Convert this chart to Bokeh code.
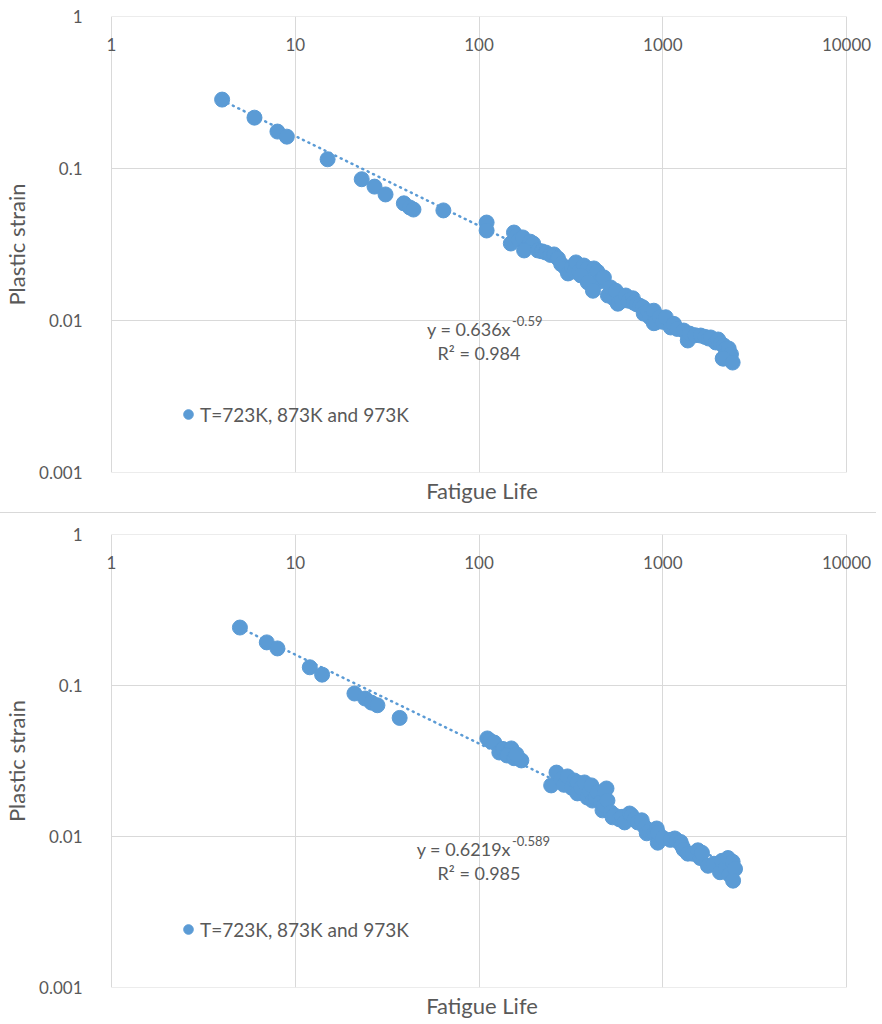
from bokeh.plotting import figure
from bokeh.models import (Range1d, FixedTicker, ColumnDataSource, LabelSet, Label,
                          Legend, LegendItem, Div, Title, CustomJSTickFormatter)
from bokeh.core.properties import value
from bokeh.layouts import column
from bokeh.embed import file_html
from bokeh.resources import INLINE

# data
life_top = [4, 6, 8, 9, 15, 23, 27, 31, 39, 42, 44, 64, 110, 110,
            155, 149, 160, 165, 173, 185, 190, 197, 176, 209, 220, 231, 245, 256, 269, 280,
            297, 305, 320, 330, 337, 350, 372, 390, 422, 440, 450, 472, 358, 391, 417,
            478, 503, 520, 540, 555, 569, 577, 600, 629, 650, 687, 695, 720, 750, 779, 788,
            830, 850, 894, 894, 916, 960, 1000, 1038, 1105, 1150, 1200, 1300, 1368, 1400,
            1500, 1609, 1700, 1778, 1824, 1941, 2000, 2066, 2146, 2200, 2256, 2284, 2350,
            2119, 2146, 2400]
strain_top = [0.284, 0.216, 0.175, 0.162, 0.115, 0.085, 0.076, 0.0675, 0.059, 0.0554, 0.0537, 0.053, 0.0441, 0.0391,
              0.0379, 0.0321, 0.036, 0.034, 0.0352, 0.031, 0.033, 0.0321, 0.0289, 0.0289, 0.0285, 0.0280, 0.027, 0.0272, 0.0256, 0.0235,
              0.0220, 0.0204, 0.0225, 0.021, 0.0241, 0.021, 0.0230, 0.022, 0.0220, 0.021, 0.018, 0.0192, 0.0198, 0.0178, 0.0157,
              0.0192, 0.0146, 0.0165, 0.014, 0.0157, 0.0129, 0.0131, 0.0135, 0.0146, 0.0135, 0.0140, 0.0131, 0.0128, 0.0125, 0.0122, 0.0111,
              0.0115, 0.0105, 0.0116, 0.0096, 0.0097, 0.0105, 0.0098, 0.0105, 0.0090, 0.0095, 0.0088, 0.00859, 0.00739, 0.0082,
              0.0080, 0.00796, 0.0078, 0.00761, 0.00773, 0.00717, 0.0075, 0.00706, 0.00685, 0.0065, 0.00616, 0.00654, 0.0060,
              0.00562, 0.00562, 0.00529]

life_bottom = [5, 7, 8, 12, 14, 21, 24, 26, 28, 37,
               111, 115, 121, 129, 135, 150, 142, 155, 170, 160,
               264, 247, 280, 290, 303, 320, 330, 343, 343, 360, 375, 389, 400, 409, 414, 430, 441,
               460, 494, 482, 470, 480, 500, 520, 533, 547, 580, 600, 620, 660, 677, 700, 730, 768,
               800, 818, 850, 900, 927, 939, 939, 1000, 1100, 1163, 1193, 1250, 1270, 1300, 1369,
               1450, 1553, 1600, 1634, 1762, 1900, 2048, 2100, 2200, 2265, 2300, 2400, 2473, 2413]
strain_bottom = [0.242, 0.193, 0.176, 0.132, 0.118, 0.0885, 0.082, 0.077, 0.074, 0.061,
                 0.0446, 0.043, 0.0419, 0.036, 0.038, 0.0383, 0.0344, 0.033, 0.0319, 0.035,
                 0.0265, 0.0218, 0.024, 0.022, 0.0250, 0.021, 0.0235, 0.0228, 0.0193, 0.021, 0.0228, 0.0181, 0.020, 0.0218, 0.0173, 0.018, 0.0196,
                 0.017, 0.0208, 0.0202, 0.0149, 0.016, 0.0173, 0.0145, 0.0134, 0.0138, 0.013, 0.0135, 0.0124, 0.0142, 0.0138, 0.013, 0.0124, 0.0128,
                 0.0115, 0.0105, 0.011, 0.0105, 0.0113, 0.0091, 0.0106, 0.0098, 0.0095, 0.0097, 0.0094, 0.0092, 0.0087, 0.0082, 0.0077,
                 0.0077, 0.0081, 0.0072, 0.0078, 0.0064, 0.0066, 0.0058, 0.0069, 0.0062, 0.0072, 0.0056, 0.0068, 0.0061, 0.0051]

# power-law trendlines as printed on the charts
coef_top, expo_top, r2_top = 0.636, -0.59, 0.984
coef_bottom, expo_bottom, r2_bottom = 0.6219, -0.589, 0.985

x_ticks = [1, 10, 100, 1000, 10000]
x_tick_labels = ["1", "10", "100", "1000", "10000"]
y_ticks = [0.001, 0.01, 0.1, 1]
y_tick_labels = ["0.001", "0.01", "0.1", "1"]

series_name = "T=723K, 873K and 973K"

BLUE = "#5B9BD5"
GREY = "#595959"
GRID = "#D9D9D9"
FONT = "Lato"

DECADE = 184  # px per decade on the x axis
PAD_L, PAD_R = 22, 28  # room left/right of the 1..10000 box for the inside tick labels
BORDER_L = 88
EQ_RAISE = 8  # px the equation block sits above its anchor


def make_chart(life, strain, coef, expo, r2, eq_y, border_top, frame_h, border_bottom):
    p = figure(x_axis_type="log", y_axis_type="log",
               x_range=Range1d(10 ** (-PAD_L / DECADE), 10 ** (4 + PAD_R / DECADE)),
               y_range=Range1d(0.001, 1),
               width=BORDER_L + 4 * DECADE + PAD_L + PAD_R, height=border_top + frame_h + border_bottom,
               min_border_left=BORDER_L, min_border_right=0,
               min_border_top=border_top, min_border_bottom=border_bottom,
               output_backend="svg", toolbar_location=None)
    p.outline_line_color = None

    # the x axis only provides the vertical grid; its labels sit inside, at the top
    p.xaxis.ticker = FixedTicker(ticks=x_ticks, minor_ticks=[])
    p.xaxis.visible = False
    p.xgrid.grid_line_color = GRID
    p.ygrid.grid_line_color = None
    p.segment(x0=x_ticks[0], x1=x_ticks[-1], y0=y_ticks, y1=y_ticks, line_color=GRID, line_width=1)

    p.add_layout(Title(text="Fatigue Life", align="center", text_font=FONT,
                       text_font_size="22px", text_font_style="normal",
                       text_color=GREY, standoff=4, offset=0), "below")

    p.yaxis.ticker = FixedTicker(ticks=y_ticks, minor_ticks=[])
    p.yaxis.formatter = CustomJSTickFormatter(args=dict(tick_values=y_ticks, tick_labels=y_tick_labels), code="""
        let best = 0;
        for (let i = 0; i < tick_values.length; i++) {
            if (Math.abs(Math.log10(tick_values[i] / tick)) < Math.abs(Math.log10(tick_values[best] / tick))) best = i;
        }
        return tick_labels[best];
    """)
    p.yaxis.major_label_text_font = FONT
    p.yaxis.major_label_text_font_size = "17px"
    p.yaxis.major_label_text_color = GREY
    p.yaxis.major_label_standoff = 1
    p.yaxis.major_tick_line_color = None
    p.yaxis.minor_tick_line_color = None
    p.yaxis.axis_line_color = None
    p.yaxis.axis_label = "Plastic strain"
    p.yaxis.axis_label_standoff = 6
    p.yaxis.axis_label_text_font = FONT
    p.yaxis.axis_label_text_font_size = "22px"
    p.yaxis.axis_label_text_font_style = "normal"
    p.yaxis.axis_label_text_color = GREY

    top_labels = ColumnDataSource(dict(x=x_ticks, y=[y_ticks[-1]] * len(x_ticks), text=x_tick_labels))
    p.add_layout(LabelSet(x="x", y="y", text="text", source=top_labels,
                          y_offset=-28, text_align="center", text_baseline="middle",
                          text_font=value(FONT), text_font_size=value("17px"), text_color=GREY))

    # trendline over the range of the data
    xs = [min(life), max(life)]
    p.line(xs, [coef * v ** expo for v in xs], line_color=BLUE, line_width=2.5,
           line_dash="1 5", line_cap="round")

    pts = p.scatter(life, strain, size=15, fill_color=BLUE, line_color=BLUE)

    p.add_layout(Label(x=155, y=eq_y, x_offset=-3, y_offset=EQ_RAISE, text=f"y = {coef}x",
                       text_align="right", text_baseline="alphabetic",
                       text_font=FONT, text_font_size="18px", text_color=GREY))
    p.add_layout(Label(x=155, y=eq_y, x_offset=-2, y_offset=EQ_RAISE + 8, text=f"{expo}",
                       text_align="left", text_baseline="alphabetic",
                       text_font=FONT, text_font_size="13px", text_color=GREY))
    p.add_layout(Label(x=155, y=eq_y, x_offset=-35, y_offset=EQ_RAISE - 24, text=f"R² = {r2}",
                       text_align="center", text_baseline="alphabetic",
                       text_font=FONT, text_font_size="18px", text_color=GREY))

    legend = Legend(items=[LegendItem(label=series_name, renderers=[pts])],
                    location=(87, 46), padding=0, margin=0, spacing=0,
                    glyph_width=24, glyph_height=24, label_standoff=0,
                    background_fill_alpha=0, border_line_color=None,
                    label_text_font=FONT, label_text_font_size="19px", label_text_color=GREY)
    p.add_layout(legend)
    return p


p_top = make_chart(life_top, strain_top, coef_top, expo_top, r2_top, 0.00773, 16, 456, 40)
p_bottom = make_chart(life_bottom, strain_bottom, coef_bottom, expo_bottom, r2_bottom, 0.00726, 21, 454, 32)

sep = Div(text="", width=876, height=1, margin=0, styles={"background-color": GRID})

p = column(p_top, sep, p_bottom)

open("out.html", "w").write(file_html(p, INLINE))
